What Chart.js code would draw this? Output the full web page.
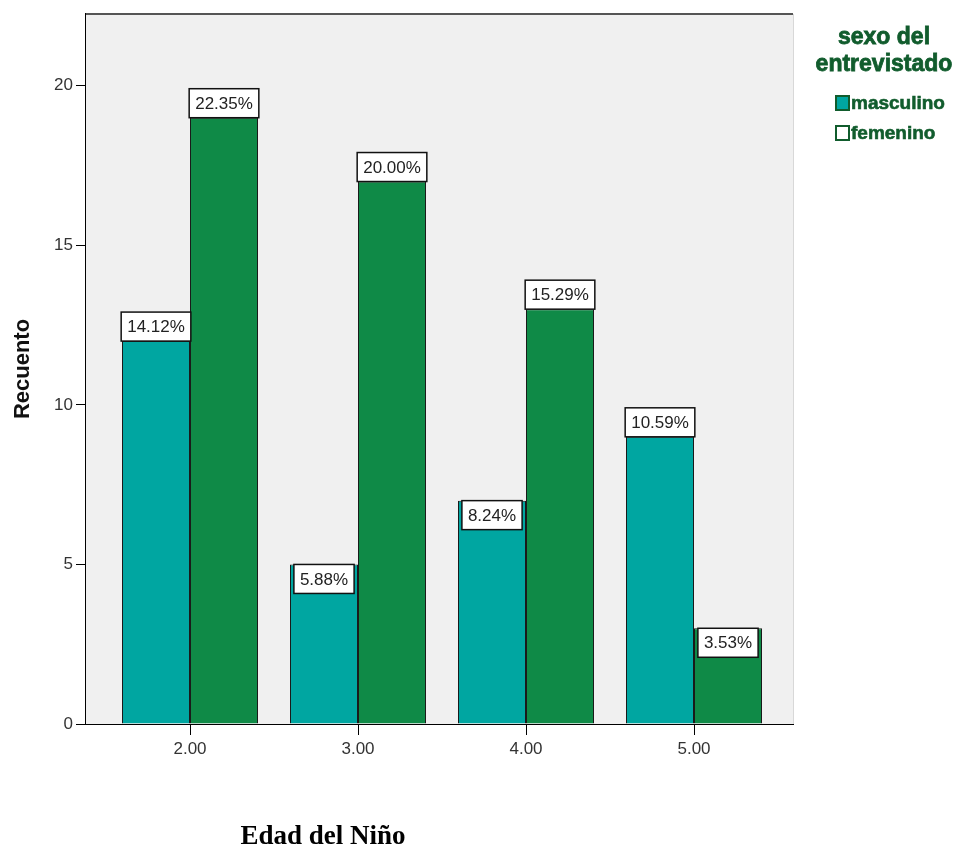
<!DOCTYPE html>
<html>
<head>
<meta charset="utf-8">
<script src="https://cdn.jsdelivr.net/npm/chart.js@4.4.0/dist/chart.umd.min.js"></script>
<style>
  html, body { margin: 0; padding: 0; background: #ffffff; }
  #wrap { width: 963px; height: 848px; }
</style>
</head>
<body>
<div id="wrap"><canvas id="chart" width="963" height="848"></canvas></div>
<script>
// Edad del Niño vs Recuento, grouped by sexo del entrevistado
const ages = [2, 3, 4, 5];
const masculino = [12, 5, 7, 9];
const femenino = [19, 17, 13, 3];
const pctMasculino = ['14.12%', '5.88%', '8.24%', '10.59%'];
const pctFemenino = ['22.35%', '20.00%', '15.29%', '3.53%'];
const yTicks = [0, 5, 10, 15, 20];
const seriesNames = ['masculino', 'femenino'];

const TEAL = '#00a6a1';
const GREEN = '#0f8a47';
const LEGEND_GREEN = '#115c2d';

// plot background + top frame line
const plotFrame = {
    id: 'plotFrame',
    beforeDatasetsDraw(chart) {
        const { ctx, chartArea: a } = chart;
        ctx.save();
        ctx.fillStyle = '#f0f0f0';
        ctx.fillRect(a.left, a.top, a.right - a.left, a.bottom - a.top);
        ctx.restore();
    },
    afterDraw(chart) {
        const { ctx, chartArea: a } = chart;
        ctx.save();
        ctx.strokeStyle = '#555555';
        ctx.lineWidth = 2;
        ctx.beginPath();
        ctx.moveTo(a.left, a.top);
        ctx.lineTo(a.right, a.top);
        ctx.stroke();
        ctx.strokeStyle = '#d8d8d8';
        ctx.lineWidth = 1;
        ctx.beginPath();
        ctx.moveTo(a.right + 0.5, a.top);
        ctx.lineTo(a.right + 0.5, a.bottom);
        ctx.stroke();
        ctx.restore();
    }
};

// white percent boxes on the bars
const pctLabels = {
    id: 'pctLabels',
    afterDatasetsDraw(chart) {
        const { ctx } = chart;
        ctx.save();
        ctx.font = '17px "Liberation Sans", Arial, sans-serif';
        ctx.textAlign = 'center';
        ctx.textBaseline = 'middle';
        chart.data.datasets.forEach((ds, di) => {
            const meta = chart.getDatasetMeta(di);
            meta.data.forEach((bar, i) => {
                const text = ds.pct[i];
                const w = ctx.measureText(text).width + 12;
                const h = 29;
                const inside = ds.data[i].y < 8;
                const top = inside ? bar.y : bar.y - h;
                const left = bar.x - w / 2;
                ctx.fillStyle = '#ffffff';
                ctx.fillRect(left, top, w, h);
                ctx.strokeStyle = '#111111';
                ctx.lineWidth = 1.5;
                ctx.strokeRect(left, top, w, h);
                ctx.fillStyle = '#222222';
                ctx.fillText(text, bar.x, top + h / 2 + 1);
            });
        });
        ctx.restore();
    }
};

// legend block on the right and the x axis title
const sideText = {
    id: 'sideText',
    afterDraw(chart) {
        const { ctx } = chart;
        ctx.save();
        ctx.fillStyle = LEGEND_GREEN;
        ctx.strokeStyle = LEGEND_GREEN;
        ctx.lineWidth = 0.8;
        ctx.textAlign = 'center';
        ctx.textBaseline = 'middle';
        ctx.font = 'bold 23px "Liberation Sans", Arial, sans-serif';
        ['sexo del', 'entrevistado'].forEach((t, i) => {
            ctx.fillText(t, 884, 38 + i * 27);
            ctx.strokeText(t, 884, 38 + i * 27);
        });
        ctx.font = 'bold 19px "Liberation Sans", Arial, sans-serif';
        ctx.textAlign = 'left';
        const fills = [TEAL, '#ffffff'];
        seriesNames.forEach((name, i) => {
            const y = 103 + i * 30;
            ctx.fillStyle = fills[i];
            ctx.fillRect(836, y - 7, 13, 14);
            ctx.lineWidth = 2;
            ctx.strokeRect(836, y - 7, 13, 14);
            ctx.fillStyle = LEGEND_GREEN;
            ctx.lineWidth = 0.6;
            ctx.fillText(name, 851, y + 1);
            ctx.strokeText(name, 851, y + 1);
        });
        ctx.fillStyle = '#000000';
        ctx.textAlign = 'center';
        ctx.font = 'bold 27px "Liberation Serif", "Times New Roman", serif';
        ctx.fillText('Edad del Niño', 323, 837);
        ctx.restore();
    }
};

const ctx = document.getElementById('chart').getContext('2d');
new Chart(ctx, {
    type: 'bar',
    data: {
        datasets: [
            {
                label: seriesNames[0],
                data: ages.map((a, i) => ({ x: a, y: masculino[i] })),
                pct: pctMasculino,
                backgroundColor: TEAL,
                borderColor: '#1a1a1a',
                borderWidth: 1,
                borderSkipped: 'bottom'
            },
            {
                label: seriesNames[1],
                data: ages.map((a, i) => ({ x: a, y: femenino[i] })),
                pct: pctFemenino,
                backgroundColor: GREEN,
                borderColor: '#1a1a1a',
                borderWidth: 1,
                borderSkipped: 'bottom'
            }
        ]
    },
    options: {
        responsive: false,
        animation: false,
        categoryPercentage: 136 / 168,
        barPercentage: 1,
        layout: { padding: { top: 14, right: 170, left: 0, bottom: 0 } },
        plugins: {
            legend: { display: false },
            tooltip: { enabled: false }
        },
        scales: {
            x: {
                type: 'linear',
                offset: false,
                min: 2 - 104 / 168,
                max: 5 + 99 / 168,
                afterBuildTicks: (scale) => { scale.ticks = ages.map(v => ({ value: v })); },
                afterFit: (scale) => { scale.height = 124; },
                grid: { offset: false, drawOnChartArea: false, drawTicks: true, tickLength: 11, color: '#000000' },
                border: { color: '#000000', width: 2 },
                ticks: {
                    padding: 4,
                    color: '#333333',
                    font: { family: '"Liberation Sans", Arial, sans-serif', size: 17 },
                    callback: (v) => Number(v).toFixed(2)
                }
            },
            y: {
                min: 0,
                max: 22.25,
                afterBuildTicks: (scale) => { scale.ticks = yTicks.map(v => ({ value: v })); },
                afterFit: (scale) => { scale.width = 86; },
                grid: { drawOnChartArea: false, drawTicks: true, tickLength: 10, color: '#000000' },
                border: { color: '#000000', width: 2 },
                ticks: {
                    padding: 3,
                    color: '#333333',
                    font: { family: '"Liberation Sans", Arial, sans-serif', size: 17 }
                },
                title: {
                    display: true,
                    text: 'Recuento',
                    color: '#111111',
                    padding: { top: 10, bottom: 0 },
                    font: { family: '"Liberation Sans", Arial, sans-serif', size: 22, weight: 'bold' }
                }
            }
        }
    },
    plugins: [plotFrame, pctLabels, sideText]
});
</script>
</body>
</html>
